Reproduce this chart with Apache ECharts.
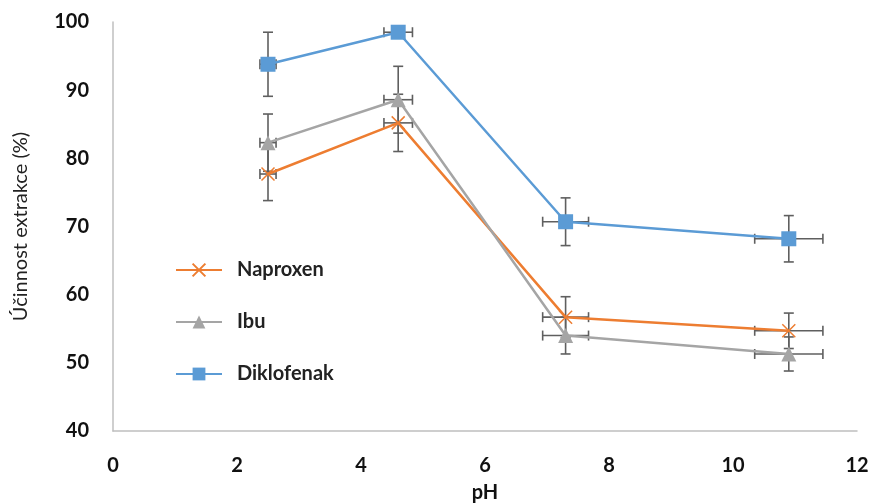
<!DOCTYPE html>
<html><head><meta charset="utf-8">
<script src="https://cdn.jsdelivr.net/npm/echarts@6/dist/echarts.min.js"></script>
<style>html,body{margin:0;padding:0;background:#fff}#c{width:877px;height:504px}</style>
</head><body><div id="c"></div>
<script>
const seriesNames = ['Naproxen', 'Ibu', 'Diklofenak'];
const phValues = [2.5, 4.6, 7.3, 10.9];
const naproxen = [77.7, 85.2, 56.7, 54.7];
const ibu = [82.3, 88.6, 54.0, 51.3];
const diklofenak = [93.8, 98.5, 70.7, 68.2];
const phErr = [0.13, 0.23, 0.37, 0.55];
const naproxenErr = [3.9, 4.2, 3.0, 2.6];
const ibuErr = [4.2, 4.9, 2.7, 2.5];
const diklofenakErr = [4.7, 0.3, 3.5, 3.4];
const xTicks = [0, 2, 4, 6, 8, 10, 12];
const yTicks = [40, 50, 60, 70, 80, 90, 100];

const colors = ['#ED7D31', '#A5A5A5', '#5B9BD5'];
const symbols = ['path://M0,0L10,10M10,0L0,10', 'triangle', 'rect'];
const values = [naproxen, ibu, diklofenak];
const errs = [naproxenErr, ibuErr, diklofenakErr];

const chart = echarts.init(document.getElementById('c'));
const errColor = '#5f5f5f';
function renderErr(params, api) {
  const x = api.value(0), y = api.value(1), ex = api.value(2), ey = api.value(3);
  const top = api.coord([x, y + ey]), bot = api.coord([x, y - ey]);
  const lft = api.coord([x - ex, y]), rgt = api.coord([x + ex, y]);
  const cap = 5;
  const st = { stroke: errColor, lineWidth: 1.6 };
  const lines = [
    [top[0], top[1], bot[0], bot[1]],
    [top[0] - cap, top[1], top[0] + cap, top[1]],
    [bot[0] - cap, bot[1], bot[0] + cap, bot[1]],
    [lft[0], lft[1], rgt[0], rgt[1]],
    [lft[0], lft[1] - cap, lft[0], lft[1] + cap],
    [rgt[0], rgt[1] - cap, rgt[0], rgt[1] + cap]
  ];
  return { type: 'group', children: lines.map(l => ({ type: 'line', shape: { x1: l[0], y1: l[1], x2: l[2], y2: l[3] }, style: st })) };
}

const series = [];
seriesNames.forEach((n, i) => {
  series.push({
    type: 'custom', name: n + '_err', renderItem: renderErr, z: 1, silent: true,
    data: phValues.map((p, j) => [p, values[i][j], phErr[j], errs[i][j]])
  });
});
seriesNames.forEach((n, i) => {
  const isX = i === 0;
  series.push({
    type: 'line', name: n, z: 3,
    data: phValues.map((p, j) => [p, values[i][j]]),
    symbol: symbols[i], symbolSize: isX ? 13 : 15,
    lineStyle: { color: colors[i], width: 2.5 },
    itemStyle: isX ? { color: 'rgba(0,0,0,0)', borderColor: colors[i], borderWidth: 1.5 } : { color: colors[i], borderWidth: 0 },
    emphasis: { disabled: true },
    animation: false
  });
});

chart.setOption({
  animation: false,
  grid: { left: 113, right: 20, top: 22, bottom: 73, containLabel: false, outerBoundsMode: 'none' },
  legend: {
    data: seriesNames,
    orient: 'vertical', left: 170, top: 255, itemGap: 32,
    itemWidth: 46, itemHeight: 16,
    textStyle: { fontFamily: 'Lato', fontWeight: 'bold', fontSize: 20, color: '#222', padding: [0, 0, 0, 10] }
  },
  xAxis: {
    type: 'value', min: 0, max: 12, interval: 2,
    name: 'pH', nameLocation: 'middle', nameGap: 52,
    nameTextStyle: { fontFamily: 'Lato', fontWeight: 'bold', fontSize: 20, color: '#111' },
    axisLine: { show: true, lineStyle: { color: '#BFBFBF', width: 1.5 } },
    axisTick: { show: false }, splitLine: { show: false },
    axisLabel: { margin: 25, fontFamily: 'Lato', fontWeight: 'bold', fontSize: 20, color: '#111',
      formatter: v => xTicks.includes(v) ? String(v) : '' }
  },
  yAxis: {
    type: 'value', min: 40, max: 100, interval: 10,
    name: 'Účinnost extrakce (%)', nameLocation: 'middle', nameGap: 82, nameRotate: 90,
    nameTextStyle: { fontFamily: 'Lato', fontSize: 20, color: '#222' },
    axisLine: { show: true, lineStyle: { color: '#BFBFBF', width: 1.5 } },
    axisTick: { show: false }, splitLine: { show: false },
    axisLabel: { margin: 24, fontFamily: 'Lato', fontWeight: 'bold', fontSize: 20, color: '#111',
      formatter: v => yTicks.includes(v) ? String(v) : '' }
  },
  series: series
});
</script></body></html>
